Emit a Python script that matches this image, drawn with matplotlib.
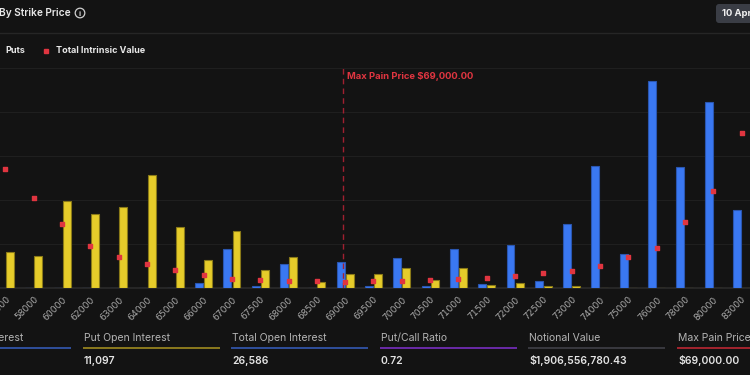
import numpy as np
import matplotlib
matplotlib.use("Agg")
import matplotlib.pyplot as plt
from matplotlib.patches import Circle, FancyBboxPatch

plt.rcParams['font.family'] = ['Inter', 'DejaVu Sans']

# strikes shown on the x axis (first one is cut off at the left edge)
strikes = ['57000', '58000', '60000', '62000', '63000', '64000', '65000', '66000',
           '67000', '67500', '68000', '68500', '69000', '69500', '70000', '70500',
           '71000', '71500', '72000', '72500', '73000', '74000', '75000', '76000',
           '78000', '80000', '83000']
calls = [0, 0, 0, 0, 0, 0, 0, 75, 532, 27, 327, 0, 361, 34, 409, 34,
         532, 55, 593, 95, 873, 1664, 464, 2823, 1650, 2536, 1064]
puts = [491, 436, 1180, 1009, 1098, 1541, 832, 382, 777, 239, 423, 82, 191, 191, 273, 109,
        273, 41, 68, 27, 34, 0, 0, 0, 0, 0, 0]
# total intrinsic value, $M
intrinsic = [53.9, 41.0, 29.3, 18.9, 14.3, 10.7, 8.0, 6.0, 3.9, 3.5, 3.3, 3.0, 2.8, 3.0,
             3.3, 3.5, 3.9, 4.6, 5.5, 6.6, 7.6, 9.9, 14.0, 18.1, 29.9, 44.2, 70.5]
max_pain = '69000'

# footer stats (call value sits off the left edge in the reference, so left blank)
stat_labels = ['Call Open Interest', 'Put Open Interest', 'Total Open Interest',
               'Put/Call Ratio', 'Notional Value', 'Max Pain Price']
stat_values = ['', '11,097', '26,586', '0.72', '$1,906,556,780.43', '$69,000.00']
stat_colors = ['#2f4f9c', '#8c7a1e', '#2f4f9c', '#6a2aa8', '#3a3a40', '#a3242e']

bg = '#131313'
blue = '#3a78f2'
yellow = '#e6cc2a'
red = '#e03540'

fig = plt.figure(figsize=(7.5, 3.75), dpi=100, facecolor=bg)
ax = fig.add_axes([0, 87 / 375, 1, 220 / 375])
ax.set_facecolor(bg)

x = np.arange(len(strikes))
w = 0.28
ax.bar(x - 0.16, calls, w, color=blue, edgecolor='#2a56b0', linewidth=0.8, zorder=3)
ax.bar(x + 0.16, puts, w, color=yellow, edgecolor='#8a7a18', linewidth=0.8, zorder=3)

ax.set_xlim(-0.194, 26.3)
ax.set_ylim(0, 3000)
ax.set_yticks(np.arange(0, 3001, 600))
ax.yaxis.grid(True, color='#1f1f1f', linewidth=0.8, zorder=0)
ax.tick_params(axis='y', length=0, labelleft=False)
ax.set_xticks(x)
ax.set_xticklabels(strikes, rotation=45, ha='right', va='top', rotation_mode='anchor',
                   fontsize=6.6, color='#aaaaaa', family=['DejaVu Sans'])
ax.tick_params(axis='x', length=0, pad=5)
for s in ['top', 'right', 'left']:
    ax.spines[s].set_visible(False)
ax.spines['bottom'].set_color('#2a2a2a')
ax.spines['bottom'].set_linewidth(1.2)

mp = strikes.index(max_pain)
ax.axvline(mp - 0.06, color='#a02030', linestyle=(0, (4, 3)), linewidth=1, zorder=4)
ax.text(mp + 0.08, 2880, 'Max Pain Price $69,000.00', color=red, fontsize=6.8,
        fontweight='bold', va='center', ha='left', zorder=5)

ax2 = ax.twinx()
ax2.set_ylim(0, 100)
ax2.scatter(x, intrinsic, marker='s', s=5, color=red, zorder=6)
ax2.axis('off')

# header / footer overlay in pixel coordinates
ov = fig.add_axes([0, 0, 1, 1], zorder=10)
ov.set_xlim(0, 750)
ov.set_ylim(375, 0)
ov.axis('off')
ov.patch.set_visible(False)

ov.text(-1, 13, 'By Strike Price', color='#e8e8e8', fontsize=7.3, fontweight='semibold',
        va='center', ha='left')
ov.add_patch(Circle((80, 13), 4.8, fill=False, edgecolor='#d0d0d0', linewidth=0.9))
ov.text(80, 13.5, 'i', color='#d0d0d0', fontsize=5.5, fontweight='bold', ha='center', va='center')
ov.plot([0, 750], [32.5, 32.5], color='#262626', linewidth=1)

ov.add_patch(FancyBboxPatch((716, 4), 40, 19, boxstyle='round,pad=0,rounding_size=3',
                            facecolor='#3a3d45', edgecolor='none'))
ov.text(722, 13.5, '10 Apr', color='#f0f0f0', fontsize=6.8, fontweight='bold', va='center')

ov.text(5, 50.5, 'Puts', color='#e8e8e8', fontsize=6.5, fontweight='bold', va='center')
ov.plot([46], [50.5], marker='s', markersize=2.5, color=red, linestyle='none')
ov.text(56, 50.5, 'Total Intrinsic Value', color='#e8e8e8', fontsize=6.5,
        fontweight='bold', va='center')

x0 = -65
step = 148.6
for i, (lab, val, col) in enumerate(zip(stat_labels, stat_values, stat_colors)):
    lx = x0 + i * step
    ov.text(lx, 338, lab, color='#b4b4b4', fontsize=7.5, va='center', ha='left')
    ov.plot([lx - 1, lx + 136], [348, 348], color=col, linewidth=1.4, solid_capstyle='butt')
    if val:
        ov.text(lx, 361, val, color='#e4e4e4', fontsize=7.5, fontweight='semibold',
                va='center', ha='left')

fig.savefig('out.png', dpi=100, facecolor=bg)
